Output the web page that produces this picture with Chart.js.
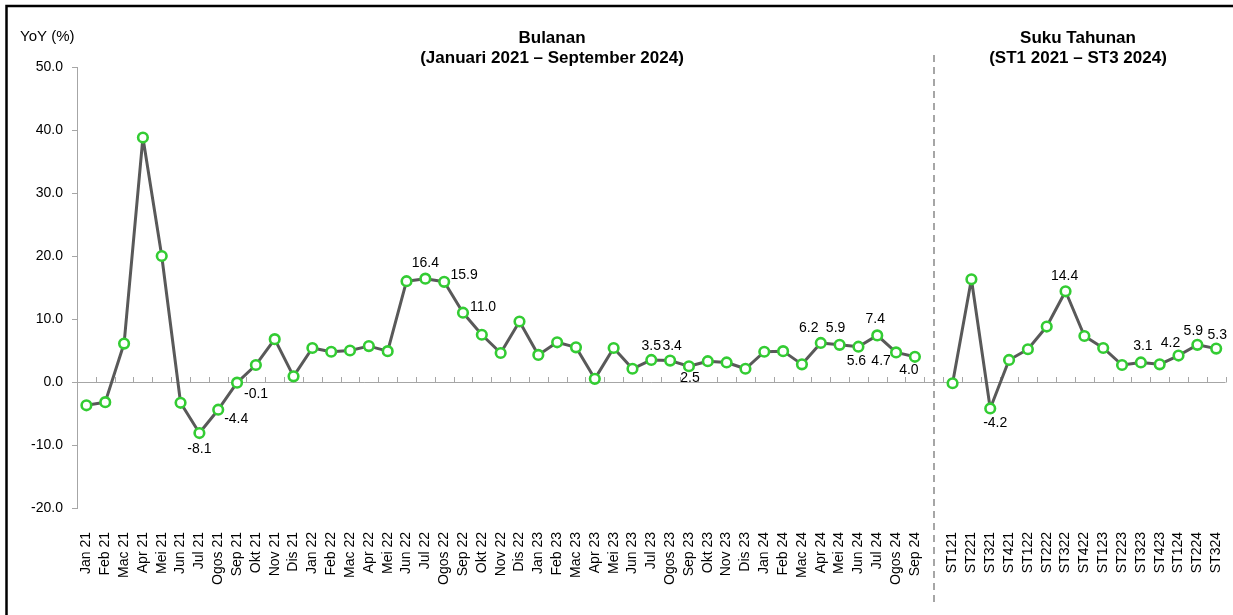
<!DOCTYPE html>
<html>
<head>
<meta charset="utf-8">
<script src="https://cdn.jsdelivr.net/npm/chart.js@4"></script>
<style>
  html, body { margin: 0; padding: 0; background: #fff; }
  #wrap { width: 1233px; height: 615px; position: relative; }
</style>
</head>
<body>
<div id="wrap"><canvas id="c"></canvas></div>
<script>
const monthLabels = [
  'Jan 21','Feb 21','Mac 21','Apr 21','Mei 21','Jun 21','Jul 21','Ogos 21','Sep 21','Okt 21','Nov 21','Dis 21',
  'Jan 22','Feb 22','Mac 22','Apr 22','Mei 22','Jun 22','Jul 22','Ogos 22','Sep 22','Okt 22','Nov 22','Dis 22',
  'Jan 23','Feb 23','Mac 23','Apr 23','Mei 23','Jun 23','Jul 23','Ogos 23','Sep 23','Okt 23','Nov 23','Dis 23',
  'Jan 24','Feb 24','Mac 24','Apr 24','Mei 24','Jun 24','Jul 24','Ogos 24','Sep 24'
];
const monthValues = [
  -3.7, -3.2, 6.1, 38.8, 20.0, -3.3, -8.1, -4.4, -0.1, 2.7, 6.8, 0.9,
  5.4, 4.8, 5.0, 5.7, 4.9, 16.0, 16.4, 15.9, 11.0, 7.5, 4.6, 9.6,
  4.3, 6.3, 5.5, 0.5, 5.4, 2.1, 3.5, 3.4, 2.5, 3.3, 3.1, 2.1,
  4.8, 4.9, 2.8, 6.2, 5.9, 5.6, 7.4, 4.7, 4.0
];
const quarterLabels = ['ST121','ST221','ST321','ST421','ST122','ST222','ST322','ST422','ST123','ST223','ST323','ST423','ST124','ST224','ST324'];
const quarterValues = [-0.2, 16.3, -4.2, 3.5, 5.2, 8.8, 14.4, 7.3, 5.4, 2.7, 3.1, 2.8, 4.2, 5.9, 5.3];
const yMin = -20, yMax = 50, yStep = 10;

const yAxisTitle = 'YoY (%)';
const leftTitle = ['Bulanan', '(Januari 2021 \u2013 September 2024)'];
const rightTitle = ['Suku Tahunan', '(ST1 2021 \u2013 ST3 2024)'];

// labelled points: text offset from the point (px)
const labelPlacement = {
  'Jul 21': [0, 16], 'Ogos 21': [18, 9], 'Sep 21': [19, 12],
  'Jul 22': [0, -16], 'Ogos 22': [20, -7], 'Sep 22': [20, -6],
  'Jul 23': [0, -14], 'Ogos 23': [2, -14], 'Sep 23': [1, 12],
  'Apr 24': [-12, -15], 'Mei 24': [-4, -17], 'Jun 24': [-2, 14],
  'Jul 24': [-2, -16], 'Ogos 24': [-15, 9], 'Sep 24': [-6, 13],
  'ST321': [5, 15], 'ST322': [-1, -15], 'ST323': [2, -16],
  'ST124': [-8, -12], 'ST224': [-4, -14], 'ST324': [1, -13]
};

const labels = [...monthLabels, '', ...quarterLabels];
const values = [...monthValues, null, ...quarterValues];
const gapIndex = monthLabels.length;

const FONT = '"Liberation Sans", Arial, sans-serif';
const AXIS_GREY = '#a6a6a6';

const decor = {
  id: 'decor',
  beforeDatasetsDraw(chart) {
    const { ctx, chartArea, scales: { x, y } } = chart;
    const y0 = y.getPixelForValue(0);
    const slot = x.getPixelForValue(1) - x.getPixelForValue(0);
    ctx.save();
    ctx.strokeStyle = AXIS_GREY;
    ctx.lineWidth = 1;
    ctx.beginPath();
    ctx.moveTo(chartArea.left, Math.round(y0) + 0.5);
    ctx.lineTo(chartArea.right, Math.round(y0) + 0.5);
    for (let i = 0; i <= labels.length; i++) {
      const px = Math.round(x.getPixelForValue(i) - slot / 2) + 0.5;
      ctx.moveTo(px, Math.round(y0) + 0.5);
      ctx.lineTo(px, Math.round(y0) - 5);
    }
    ctx.stroke();
    // dashed separator
    const gx = Math.round(x.getPixelForValue(gapIndex));
    ctx.lineWidth = 2;
    ctx.setLineDash([7, 5]);
    ctx.beginPath();
    ctx.moveTo(gx, 55);
    ctx.lineTo(gx, 602);
    ctx.stroke();
    ctx.restore();
  },
  afterDraw(chart) {
    const { ctx } = chart;
    const meta = chart.getDatasetMeta(0);
    ctx.save();
    // outer frame
    ctx.strokeStyle = '#000';
    ctx.lineWidth = 2.5;
    ctx.strokeRect(6.5, 6, 1400, 800);
    // titles
    ctx.fillStyle = '#000';
    ctx.textAlign = 'left';
    ctx.textBaseline = 'middle';
    ctx.font = '15px ' + FONT;
    ctx.fillText(yAxisTitle, 20, 37);
    ctx.textAlign = 'center';
    ctx.font = 'bold 17px ' + FONT;
    ctx.fillText(leftTitle[0], 552, 38);
    ctx.fillText(leftTitle[1], 552, 58);
    ctx.fillText(rightTitle[0], 1078, 38);
    ctx.fillText(rightTitle[1], 1078, 58);
    // data labels
    ctx.font = '14px ' + FONT;
    labels.forEach((lab, i) => {
      const off = labelPlacement[lab];
      if (!off || values[i] == null) return;
      const pt = meta.data[i];
      ctx.fillText(values[i].toFixed(1), pt.x + off[0], pt.y + off[1]);
    });
    ctx.restore();
  }
};

new Chart(document.getElementById('c'), {
  type: 'line',
  data: {
    labels,
    datasets: [{
      data: values,
      borderColor: '#595959',
      borderWidth: 3,
      borderJoinStyle: 'round',
      tension: 0,
      spanGaps: false,
      pointRadius: 4.8,
      pointHoverRadius: 4.8,
      pointBorderWidth: 2.6,
      pointBorderColor: '#33cc33',
      pointBackgroundColor: '#ffffff'
    }]
  },
  options: {
    responsive: true,
    maintainAspectRatio: false,
    animation: false,
    events: [],
    layout: { padding: { top: 67, left: 0, right: 7, bottom: 0 } },
    plugins: { legend: { display: false }, tooltip: { enabled: false } },
    scales: {
      x: {
        type: 'category',
        offset: true,
        grid: { display: false },
        border: { display: false },
        ticks: {
          autoSkip: false,
          minRotation: 90,
          maxRotation: 90,
          padding: 16,
          color: '#000',
          font: { family: FONT, size: 14 }
        },
        afterFit(s) { s.height = 107; s.paddingLeft = 0; s.paddingRight = 0; }
      },
      y: {
        min: yMin,
        max: yMax,
        grid: { drawOnChartArea: false, tickLength: 5, color: AXIS_GREY },
        border: { color: AXIS_GREY, width: 1 },
        ticks: {
          stepSize: yStep,
          padding: 9,
          color: '#000',
          font: { family: FONT, size: 14 },
          callback: v => Number(v).toFixed(1)
        },
        afterFit(s) { s.width = 77; s.paddingTop = 0; s.paddingBottom = 0; }
      }
    }
  },
  plugins: [decor]
});
</script>
</body>
</html>
